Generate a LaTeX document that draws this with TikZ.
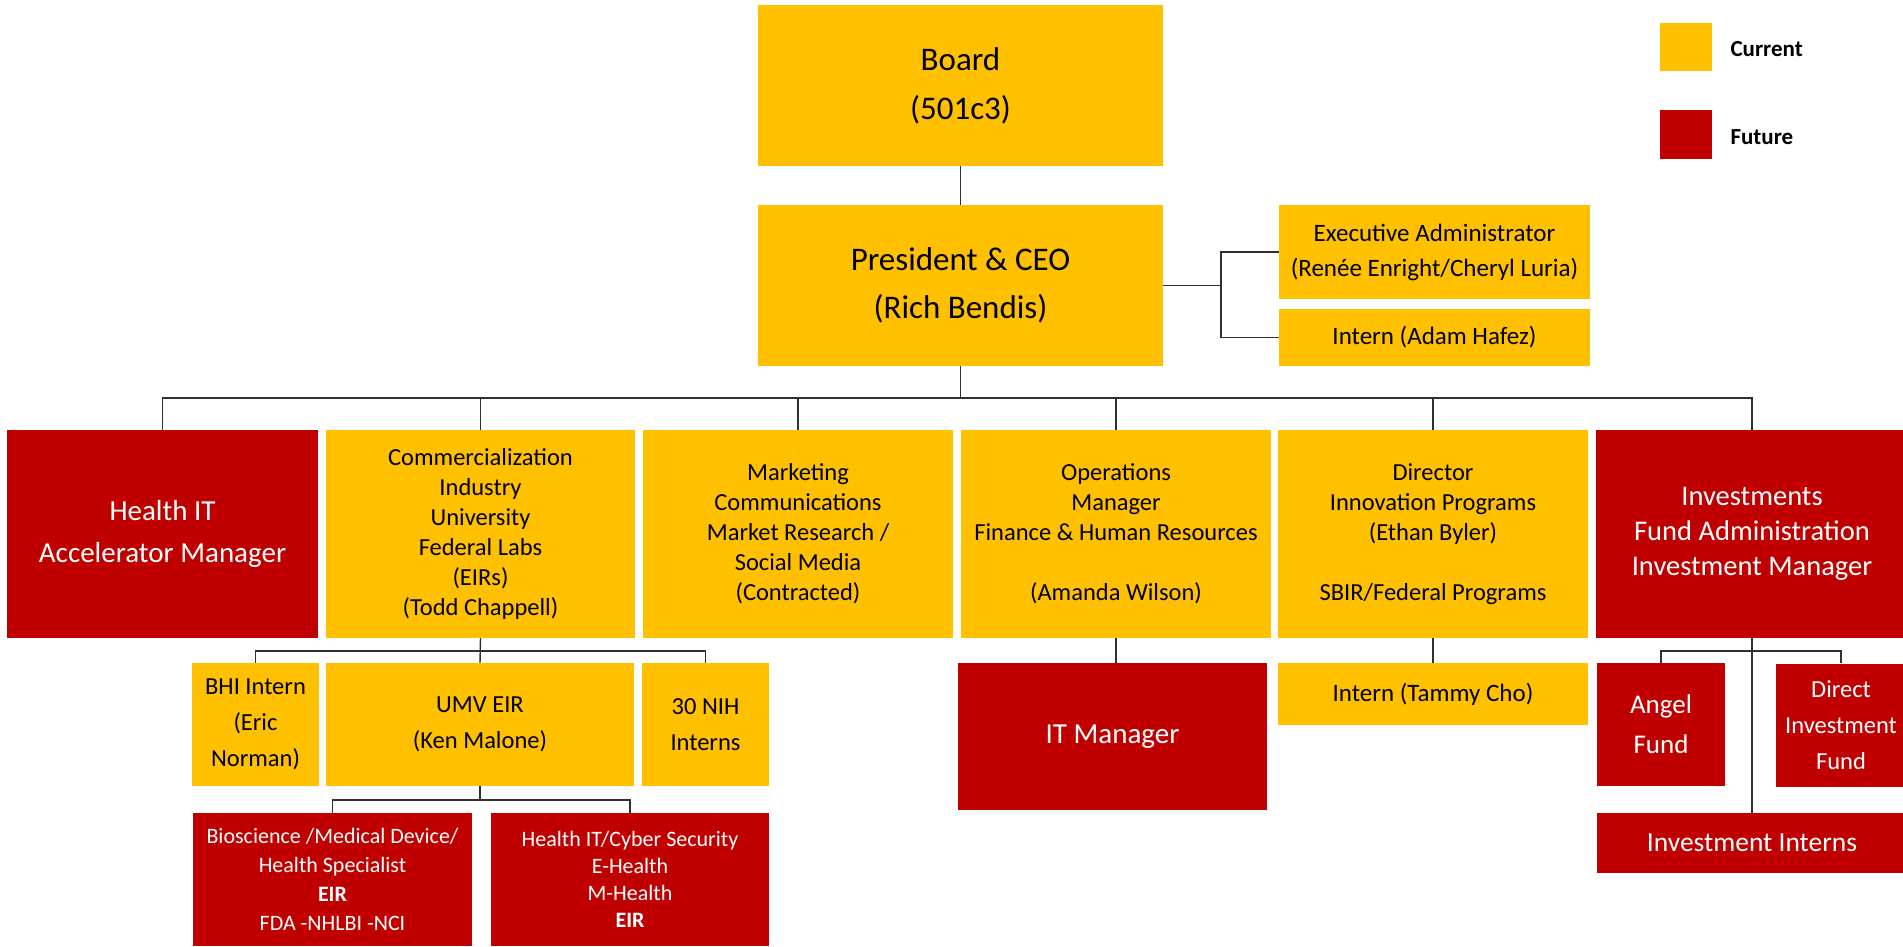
\documentclass[tikz,border=0pt]{standalone}
\usepackage{fontspec}
\setmainfont{Carlito}
\usepackage{xcolor}
\usepackage{tikz}
\definecolor{gold}{HTML}{FFC000}
\definecolor{crim}{HTML}{C00000}
\definecolor{wire}{HTML}{303030}
\newcommand{\fsz}[2]{\fontsize{#1}{#2}\selectfont}
\tikzset{
  box/.style={inner sep=0pt, align=center},
  cur/.style={box, fill=gold, text=black},
  fut/.style={box, fill=crim, text=white},
  lnk/.style={draw=wire, line width=1.4pt},
  key/.style={anchor=west, font=\fsz{23}{26}\bfseries}
}

\begin{document}
\begin{tikzpicture}[x=1pt, y=-1pt]
\useasboundingbox (0,0) rectangle (1903,946);
% top
\node[cur, minimum width=405pt, minimum height=161pt, font=\fsz{33}{49}] (board) at (960.5,85.5) {Board\\(501c3)};
\node[cur, minimum width=405pt, minimum height=161pt, font=\fsz{33}{48}] (ceo) at (960.5,285.5) {President \& CEO\\(Rich Bendis)};
\node[cur, minimum width=311pt, minimum height=94pt, font=\fsz{25}{35}] (exec) at (1434.5,252) {Executive Administrator\\(Renée Enright/Cheryl Luria)};
\node[cur, minimum width=311pt, minimum height=57pt, font=\fsz{25}{35}] (adam) at (1434.5,337.5) {Intern (Adam Hafez)};
% legend
\node[cur, minimum width=52pt, minimum height=48pt] (kcur) at (1686,47) {};
\node[fut, minimum width=52pt, minimum height=49pt] (kfut) at (1686,134.5) {};
\node[key] (tcur) at (1727,49) {Current};
\node[key] (tfut) at (1727,137) {Future};
% second row
\node[fut, minimum width=311pt, minimum height=208pt, font=\fsz{29}{42}] (hit) at (162.5,534) {Health IT\\Accelerator Manager};
\node[cur, minimum width=309pt, minimum height=208pt, font=\fsz{24.5}{30}] (comm) at (480.5,534) {Commercialization\\Industry\\University\\Federal Labs\\(EIRs)\\(Todd Chappell)};
\node[cur, minimum width=310pt, minimum height=208pt, font=\fsz{24.5}{30}] (mkt) at (798,534) {Marketing\\Communications\\Market Research /\\Social Media\\(Contracted)};
\node[cur, minimum width=310pt, minimum height=208pt, font=\fsz{24.5}{30}] (ops) at (1116,534) {Operations\\Manager\\Finance \& Human Resources\\ \mbox{}\\(Amanda Wilson)};
\node[cur, minimum width=310pt, minimum height=208pt, font=\fsz{24.5}{30}] (dir) at (1433,534) {Director\\Innovation Programs\\(Ethan Byler)\\ \mbox{}\\SBIR/Federal Programs};
\node[fut, minimum width=312pt, minimum height=208pt, font=\fsz{28.5}{35}] (inv) at (1752,534) {Investments\\Fund Administration\\Investment Manager};
% third row
\node[cur, minimum width=127pt, minimum height=123pt, font=\fsz{24.5}{36}] (bhi) at (255.5,724.5) {BHI Intern\\(Eric\\Norman)};
\node[cur, minimum width=308pt, minimum height=123pt, font=\fsz{24.5}{36}] (umv) at (480,724.5) {UMV EIR\\(Ken Malone)};
\node[cur, minimum width=127pt, minimum height=123pt, font=\fsz{24.5}{36}] (nih) at (705.5,724.5) {30 NIH\\Interns};
\node[fut, minimum width=309pt, minimum height=147pt, font=\fsz{29}{36}] (itm) at (1112.5,736.5) {IT Manager};
\node[cur, minimum width=310pt, minimum height=62pt, font=\fsz{25}{30}] (tammy) at (1433,694) {Intern (Tammy Cho)};
\node[fut, minimum width=128pt, minimum height=123pt, font=\fsz{27}{40}] (angel) at (1661,724.5) {Angel\\Fund};
\node[fut, minimum width=130pt, minimum height=123pt, font=\fsz{24.5}{36}] (dif) at (1841,725) {Direct\\Investment\\Fund};
\node[fut, minimum width=310pt, minimum height=60pt, font=\fsz{27.5}{32}] (ii) at (1752,843) {Investment Interns};
% fourth row
\node[fut, minimum width=279pt, minimum height=133pt, font=\fsz{22}{29}] (bio) at (332.5,879.5) {Bioscience /Medical Device/\\Health Specialist\\\textbf{EIR}\\FDA -NHLBI -NCI};
\node[fut, minimum width=278pt, minimum height=133pt, font=\fsz{22}{27}] (cyb) at (630,879.5) {Health IT/Cyber Security\\E-Health\\M-Health\\\textbf{EIR}};
% lines
\coordinate (cs) at (1221,285.5);
\coordinate (bus) at (960.5,398);
\coordinate (cb) at (480.5,651);
\coordinate (ub) at (480,800);
\coordinate (ib) at (1752,651);
\draw[lnk] (board) -- (ceo);
\draw[lnk] (ceo.east) -- (cs);
\draw[lnk] (exec.west) -| (cs) |- (adam.west);
\draw[lnk] (ceo.south) -- (bus);
\foreach \n in {hit,comm,mkt,ops,dir,inv}
  \draw[lnk] (bus) -| (\n.north);
\draw[lnk] (comm.south) -- (umv.north);
\foreach \n in {bhi,nih}
  \draw[lnk] (cb) -| (\n.north);
\draw[lnk] (umv.south) -- (ub);
\foreach \n in {bio,cyb}
  \draw[lnk] (ub) -| (\n.north);
\draw[lnk] (ops.south) -- (ops.south |- itm.north);
\draw[lnk] (dir.south) -- (tammy.north);
\draw[lnk] (inv.south) -- (ii.north);
\foreach \n in {angel,dif}
  \draw[lnk] (ib) -| (\n.north);
\end{tikzpicture}
\end{document}
